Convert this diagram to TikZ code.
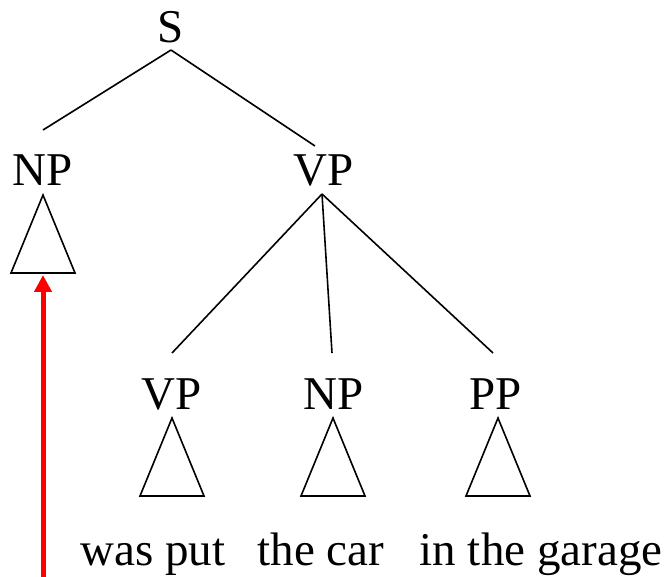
\documentclass[tikz,border=0pt]{standalone}
\usepackage{fontspec}
\setmainfont{Liberation Serif}
\usetikzlibrary{arrows.meta}

% a triangle under a category label: apex x, apex y
\newcommand{\roof}[2]{\draw [black,line width=1.6pt] (#1,#2) -- ++(-32,78) -- ++(64,0) -- cycle;}

\begin{document}
\begin{tikzpicture}[x=1pt,y=-1pt]
\tikzstyle{every node}+=[inner sep=0pt,font=\fontsize{47}{56}\selectfont]
\tikzstyle{branch}=[black,line width=1.6pt]
\useasboundingbox (0,0) rectangle (667,577);
% labels
\node (s) at (171,27) {S};
\node (np) at (43,170) {NP};
\node (vp) at (324,170) {VP};
\node (vpv) at (172,394) {VP};
\node (npo) at (334,394) {NP};
\node (pp) at (496,394) {PP};
% words
\node [anchor=base] (wasput) at (153,565) {was put};
\node [anchor=base] (thecar) at (321,565) {the car};
\node [anchor=base] (garage) at (541,565) {in the garage};
% joints
\coordinate (s-foot) at (171,50);
\coordinate (np-top) at (43,130);
\coordinate (vp-top) at (315,146);
\coordinate (vp-foot) at (322,194);
\coordinate (vpv-top) at (172,353);
\coordinate (npo-top) at (332,353);
\coordinate (pp-top) at (493,353);
\draw [branch] (s-foot) -- (np-top);
\draw [branch] (s-foot) -- (vp-top);
\draw [branch] (vp-foot) -- (vpv-top);
\draw [branch] (vp-foot) -- (npo-top);
\draw [branch] (vp-foot) -- (pp-top);
% roofs
\roof{43}{195}
\roof{172}{418}
\roof{333}{418}
\roof{498}{418}
% movement arrow
\coordinate (np-base) at (43,275);
\coordinate (arrow-foot) at (43,577);
\draw [red,line width=5pt,-{Triangle[width=17pt,length=17pt]}] (arrow-foot) -- (np-base);
\end{tikzpicture}
\end{document}
